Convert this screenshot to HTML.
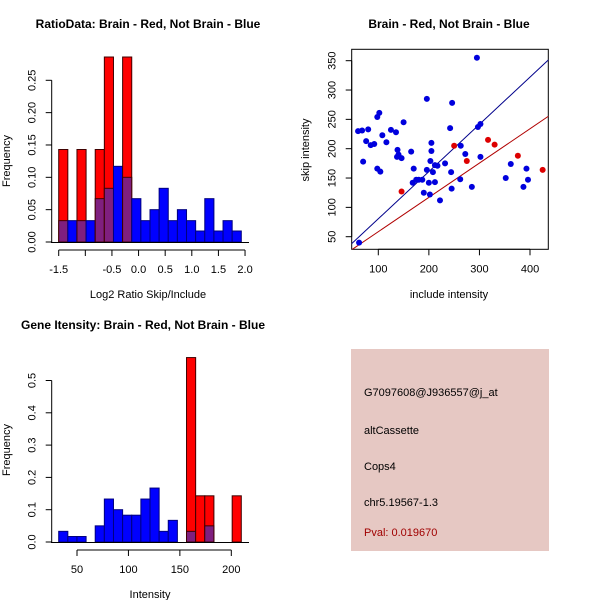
<!DOCTYPE html>
<html><head><meta charset="utf-8"><style>
body{margin:0;background:#fff}
svg{display:block;font-family:"Liberation Sans",sans-serif}
</style></head><body>
<svg id="s" width="600" height="600" viewBox="0 0 600 600">
<rect width="600" height="600" fill="#fff"/>
<text x="148" y="28" text-anchor="middle" font-weight="bold" font-size="12">RatioData: Brain - Red, Not Brain - Blue</text>
<text x="449" y="28" text-anchor="middle" font-weight="bold" font-size="12">Brain - Red, Not Brain - Blue</text>
<text x="143" y="329" text-anchor="middle" font-weight="bold" font-size="12">Gene Itensity: Brain - Red, Not Brain - Blue</text>
<text x="148" y="298" text-anchor="middle" font-size="11">Log2 Ratio Skip/Include</text>
<text x="449" y="298" text-anchor="middle" font-size="11">include intensity</text>
<text x="150" y="598" text-anchor="middle" font-size="11">Intensity</text>
<text transform="translate(10,161) rotate(-90)" text-anchor="middle" font-size="11">Frequency</text>
<text transform="translate(309,150) rotate(-90)" text-anchor="middle" font-size="11">skip intensity</text>
<text transform="translate(10,450) rotate(-90)" text-anchor="middle" font-size="11">Frequency</text>
<rect x="351" y="349" width="198" height="202" fill="#e6c8c3"/>
<text x="364" y="396" font-size="11">G7097608@J936557@j_at</text>
<text x="364" y="434" font-size="11">altCassette</text>
<text x="364" y="470" font-size="11">Cops4</text>
<text x="364" y="506" font-size="11">chr5.19567-1.3</text>
<text x="364" y="536" font-size="11" fill="#a00000">Pval: 0.019670</text>
<g id="g"></g>
</svg>
<script>
// Ratio histogram data
const ratioBlue=[0.033,0.033,0.033,0.033,0.067,0.083,0.117,0.1,0.067,0.033,0.05,0.083,0.033,0.05,0.033,0.017,0.067,0.017,0.033,0.017];
const ratioRed=[0.143,0,0.143,0,0.143,0.286,0,0.286,0,0,0,0,0,0,0,0,0,0,0,0];
const ratioXTicks=[-1.5,-1.0,-0.5,0.0,0.5,1.0,1.5,2.0];
const ratioXLabels=["-1.5","","-0.5","0.0","0.5","1.0","1.5","2.0"];
const ratioYTicks=[0,0.05,0.10,0.15,0.20,0.25];
const ratioYLabels=["0.00","0.05","0.10","0.15","0.20","0.25"];
// Intensity histogram data
const intBlue=[0.033,0.017,0.017,0,0.05,0.133,0.1,0.083,0.083,0.133,0.167,0.033,0.067,0,0.033,0,0.05,0,0,0];
const intRed=[0,0,0,0,0,0,0,0,0,0,0,0,0,0,0.571,0.143,0.143,0,0,0.143];
const intXTicks=[50,100,150,200];
const intYTicks=[0,0.1,0.2,0.3,0.4,0.5];
const intYLabels=["0.0","0.1","0.2","0.3","0.4","0.5"];
// Scatter data
const blueX=[60,68,80,76,70,85,92,98,102,98,104,108,116,125,135,138,137,140,146,150,165,170,168,175,180,187,190,196,196,200,202,203,205,205,208,212,212,217,222,232,242,244,245,246,262,263,272,285,295,297,302,302,352,362,387,393,396,62];
const blueY=[230,231,233,213,178,206,208,254,261,166,161,223,211,232,228,198,186,190,184,245,195,166,142,147,147,147,125,164,285,142,122,179,210,196,160,172,143,171,112,175,235,160,132,278,148,205,191,135,355,237,242,186,150,174,135,166,147,40];
const redX=[146,250,275,317,330,376,425];
const redY=[127,205,179,215,207,188,164];
const blueSlope=0.805, redSlope=0.585;
const scXTicks=[100,200,300,400];
const scYTicks=[50,100,150,200,250,300,350];

const NS="http://www.w3.org/2000/svg", G=document.getElementById('g');
function mk(t,a,p){const e=document.createElementNS(NS,t);for(const k in a)e.setAttribute(k,a[k]);(p||G).appendChild(e);return e;}

function hist(blue,red,bx0,bw,x0,y0,ys,name){
  for(let i=0;i<blue.length;i++){
    const x=bx0+i*bw, b=blue[i], r=red[i];
    if(r>0){const e=mk('rect',{x:x,y:y0-r*ys,width:bw,height:r*ys,fill:'#ff0000',stroke:'#400000','stroke-width':1});
      
      }
    if(b>0){const e=mk('rect',{x:x,y:y0-b*ys,width:bw,height:b*ys,fill:(r>0?'#7f1f7f':'#0000ff'),stroke:(r>0?'#400000':'#00007f'),'stroke-width':1});
      
      }
  }
}
function yaxis(x,ticks,labels,ymap,name){
  const e=mk('line',{x1:x,x2:x,y1:ymap(ticks[0]),y2:ymap(ticks[ticks.length-1]),stroke:'#000'});
  
  
  ticks.forEach((t,i)=>{const y=ymap(t);mk('line',{x1:x-6,x2:x,y1:y,y2:y,stroke:'#000'});
    const tx=mk('text',{transform:`translate(${x-16},${y}) rotate(-90)`,'text-anchor':'middle','font-size':11});
    tx.textContent=labels[i];
    
    });
}
function xaxis(y,ticks,labels,xmap,name){
  const e=mk('line',{x1:xmap(ticks[0]),x2:xmap(ticks[ticks.length-1]),y1:y,y2:y,stroke:'#000'});
  
  
  ticks.forEach((t,i)=>{const x=xmap(t);mk('line',{x1:x,x2:x,y1:y,y2:y+6,stroke:'#000'});
    const tx=mk('text',{x:x,y:y+23,'text-anchor':'middle','font-size':11});
    tx.textContent=labels[i];
    
    });
}
// Plot 1
const r1x=v=>58.7+(v+1.5)*53.24, r1y=v=>242-v*646.8;
hist(ratioBlue,ratioRed,58.7,9.13,0,242,646.8,'ratio');
mk('line',{x1:51,x2:249,y1:242.5,y2:242.5,stroke:'#000'});
yaxis(51.7,ratioYTicks,ratioYLabels,r1y,'ratio-y-axis');
xaxis(250,ratioXTicks,ratioXLabels,r1x,'ratio-x-axis');
// Plot 3
const i3x=v=>77+(v-50)*1.0287, i3y=v=>542-v*323;
hist(intBlue,intRed,58.7,9.13,0,542,323,'intensity');
mk('line',{x1:51,x2:249,y1:542.5,y2:542.5,stroke:'#000'});
yaxis(51.7,intYTicks,intYLabels,i3y,'intensity-y-axis');
xaxis(550,intXTicks,intXTicks.map(String),i3x,'intensity-x-axis');
// Scatter
const sx=v=>378.3+(v-100)*0.5057, sy=v=>236.7-(v-50)*0.5867;
const box=mk('rect',{x:351.7,y:49.3,width:196.6,height:200,fill:'none',stroke:'#000'});


yaxis(351.7,scYTicks,scYTicks.map(String),sy,'scatter-y-axis');
xaxis(249.3,scXTicks,scXTicks.map(String),sx,'scatter-x-axis');
const cp=mk('clipPath',{id:'cp'});mk('rect',{x:351.7,y:49.3,width:196.6,height:200},cp);
const cg=mk('g',{'clip-path':'url(#cp)'});
const xa=40,xb=445;
let ln=mk('line',{x1:sx(xa),y1:sy(xa*blueSlope),x2:sx(xb),y2:sy(xb*blueSlope),stroke:'#00008b'},cg);


ln=mk('line',{x1:sx(xa),y1:sy(xa*redSlope),x2:sx(xb),y2:sy(xb*redSlope),stroke:'#b00000'},cg);


blueX.forEach((v,i)=>{const c=mk('circle',{cx:sx(v),cy:sy(blueY[i]),r:3,fill:'#0000dd'},cg);
  
  });
redX.forEach((v,i)=>{const c=mk('circle',{cx:sx(v),cy:sy(redY[i]),r:3,fill:'#dd0000'},cg);
  
  });
</script>
</body></html>
